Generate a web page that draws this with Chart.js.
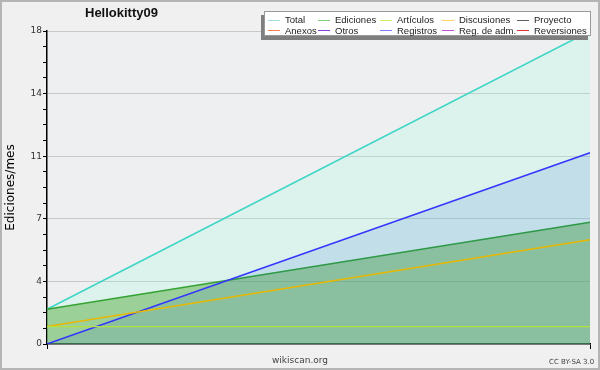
<!DOCTYPE html>
<html lang="es">
<head>
  <meta charset="UTF-8">
  <title>Hellokitty09</title>
  <script src="https://cdn.jsdelivr.net/npm/chart.js"></script>
  <style>
    body { margin: 0; background: #f0f0f0; }
    .marco { position: relative; width: 600px; height: 370px; background: #f0f0f0; overflow: hidden; }
    .marco canvas { position: absolute; left: 0; top: 0; }
    .borde { position: absolute; left: 0; top: 0; width: 600px; height: 370px; box-sizing: border-box; border: 2px solid #b5b5b5; pointer-events: none; }
    .titulo { position: absolute; left: 85px; top: 5px; font: bold 13px "Liberation Sans", sans-serif; color: #111; }
    .leyenda { position: absolute; left: 264px; top: 11px; width: 327px; height: 25px; box-sizing: border-box;
      background: #fff; border: 1px solid #999; box-shadow: -3px 4px 0 #7f7f7f; }
    .item { position: absolute; height: 11px; font: 9.5px "Liberation Sans", sans-serif; color: #222; white-space: nowrap; line-height: 11px; }
    .item i { display: inline-block; width: 12px; height: 1px; vertical-align: middle; margin-right: 5px; }
    .pie { position: absolute; top: 355px; left: 0; width: 600px; text-align: center; font: 9px "DejaVu Sans", sans-serif; color: #444; }
    .cc { position: absolute; top: 358px; left: 549px; font: 7px "DejaVu Sans", sans-serif; color: #444; }
  </style>
</head>

<body>
  <div class="marco">
    <canvas id="grafico" width="600" height="370"></canvas>
    <div class="titulo">Hellokitty09</div>
    <div class="leyenda" id="leyenda"></div>
    <div class="pie">wikiscan.org</div>
    <div class="cc">CC BY-SA 3.0</div>
    <div class="borde"></div>
  </div>

<script>
  // datos
  const meses = ['mes 1', 'mes 2'];
  const total = [2, 18];
  const ediciones = [2, 7];
  const articulos = [1, 1];
  const discusiones = [1, 6];
  const registros = [0, 11];
  const etiquetasY = ['0', '4', '7', '11', '14', '18'];

  const nombresLeyenda = ['Total', 'Ediciones', 'Artículos', 'Discusiones', 'Proyecto',
    'Anexos', 'Otros', 'Registros', 'Reg. de adm.', 'Reversiones'];
  const coloresLeyenda = ['#a0e0e0', '#7ccc7c', '#c8f060', '#ffd060', '#606060',
    '#f08050', '#8040e0', '#8080ff', '#c050e0', '#e03030'];

  // leyenda a mano
  const colX = [3, 53, 115, 177, 252];
  const leyenda = document.getElementById('leyenda');
  for (let i = 0; i < nombresLeyenda.length; i++) {
    const d = document.createElement('div');
    d.className = 'item';
    d.style.left = colX[i % 5] + 'px';
    d.style.top = (i < 5 ? 2 : 12.5) + 'px';
    d.innerHTML = '<i style="background:' + coloresLeyenda[i] + '"></i>' + nombresLeyenda[i];
    leyenda.appendChild(d);
  }

  const fondoArea = {
    id: 'fondoArea',
    beforeDraw(chart) {
      const a = chart.chartArea;
      chart.ctx.save();
      chart.ctx.fillStyle = '#eeeff1';
      chart.ctx.fillRect(a.left, a.top, a.right - a.left, a.bottom - a.top);
      chart.ctx.restore();
    }
  };

  const ctx = document.getElementById('grafico');

  new Chart(ctx, {
    type: 'line',
    data: {
      labels: meses,
      datasets: [
        { label: 'Artículos', data: articulos, borderColor: '#b4e040', borderWidth: 1.2, fill: false, order: 0 },
        { label: 'Discusiones', data: discusiones, borderColor: '#e8b800', borderWidth: 1.5, fill: false, order: 0 },
        { label: 'Registros', data: registros, borderColor: '#3434ff', borderWidth: 1.5, fill: 'origin', backgroundColor: 'rgba(12,82,217,0.12)', order: 1 },
        { label: 'Ediciones', data: ediciones, borderColor: '#34a334', borderWidth: 1.5, fill: 'origin', backgroundColor: 'rgba(92,174,70,0.5)', order: 2 },
        { label: 'Total', data: total, borderColor: '#3dd6c6', borderWidth: 1.5, fill: 'origin', backgroundColor: 'rgba(150,255,220,0.2)', order: 3 }
      ]
    },
    options: {
      responsive: false,
      animation: false,
      elements: { point: { radius: 0 }, line: { tension: 0 } },
      layout: { padding: { top: 31, right: 10, left: 0, bottom: 0 } },
      plugins: { legend: { display: false }, tooltip: { enabled: false } },
      scales: {
        x: {
          offset: false,
          ticks: { display: false },
          grid: { drawOnChartArea: false, tickLength: 5, tickColor: '#000' },
          border: { color: '#000', width: 1.5 },
          afterFit(s) { s.height = 26; }
        },
        y: {
          min: 0,
          max: 18,
          ticks: {
            stepSize: 0.9,
            maxTicksLimit: 100,
            autoSkip: false,
            padding: 1,
            color: '#333',
            font: { family: 'DejaVu Sans', size: 9 },
            callback: (v, i) => (i % 4 === 0 ? etiquetasY[i / 4] : '')
          },
          grid: {
            tickLength: 4,
            tickColor: '#000',
            color: c => (c.index % 4 === 0 && c.index > 0 ? '#c8c8c8' : 'rgba(0,0,0,0)')
          },
          border: { color: '#000', width: 1.5 },
          title: { display: true, text: 'Ediciones/mes', color: '#000', font: { family: 'DejaVu Sans', size: 12 }, padding: { top: 4, bottom: 0 } },
          afterFit(s) { s.width = 47; }
        }
      }
    },
    plugins: [fondoArea]
  });
</script>
</body>
</html>
